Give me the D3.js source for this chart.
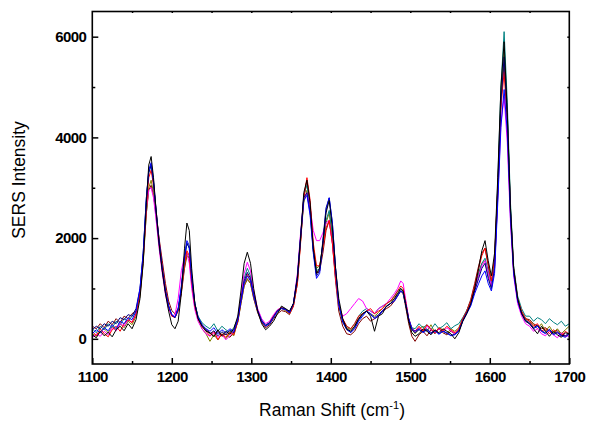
<!DOCTYPE html>
<html>
<head>
<meta charset="utf-8">
<script src="https://cdn.jsdelivr.net/npm/d3@7/dist/d3.min.js"></script>
<style>
  body { margin: 0; background: #fff; }
  svg { display: block; }
  .tick-label { font-family: "Liberation Sans", Arial, sans-serif; font-weight: bold; font-size: 15px; letter-spacing: -0.6px; }
  .axis-title { font-family: "Liberation Sans", Arial, sans-serif; font-size: 17.5px; }
</style>
</head>
<body>
<div id="chart"></div>
<script>
// Raman shift positions (cm-1), shared by all spectra
var shifts = [
  1100, 1105, 1110, 1115, 1120, 1125, 1130, 1135, 1140, 1145, 1150, 1155,
  1160, 1164, 1168, 1171, 1174, 1177, 1180, 1184, 1188, 1192, 1196, 1200, 1204, 1208, 1212, 1216, 1219, 1222, 1225, 1229, 1233, 1238, 1243,
  1248, 1253, 1258, 1263, 1268, 1273, 1278,
  1283, 1287, 1291, 1295, 1299, 1303, 1308, 1313, 1318, 1323, 1328, 1333, 1338, 1343, 1348, 1353, 1358, 1362, 1366, 1370, 1374, 1378, 1382, 1386, 1390, 1394, 1398, 1402, 1406, 1410, 1415, 1420, 1425,
  1430, 1435, 1440, 1445, 1450, 1455, 1460, 1465, 1470, 1475, 1480,
  1484, 1488, 1491, 1494, 1498, 1502, 1506,
  1511, 1516, 1521, 1526, 1531, 1536, 1541, 1546, 1551, 1556, 1561,
  1566, 1571, 1576, 1581, 1586, 1590, 1594, 1598, 1602, 1606, 1610, 1614, 1618, 1622, 1626, 1630, 1635, 1640, 1645,
  1650, 1655, 1660, 1665, 1670, 1675, 1680, 1685, 1690, 1695, 1700
];

// SERS intensities, one array per spectrum
var maroon = [
  250, 200, 300, 220, 350, 280, 400, 320, 450, 400, 500, 550,
  900, 1550, 2500, 2950, 3050, 2850, 2500, 2000, 1550, 1100, 750, 560, 500, 600, 900, 1400, 1650, 1600, 1150, 700, 430, 280, 180,
  120, 60, 150, 50, 100, 30, 120,
  330, 700, 1050, 1180, 1100, 800, 520, 330, 220, 280, 400, 500, 560, 540, 480, 650, 1100, 1950, 2800, 3150, 2650, 1750, 1300, 1350, 1700, 2150, 2350, 1900, 1150, 550, 250, 100, 80,
  150, 300, 400, 450, 350, 400, 450, 550, 600, 650, 750,
  850, 950, 900, 650, 300, 50, -50,
  80, 150, 60, 180, 100, 200, 120, 80, 150, 100, 180,
  400, 560, 780, 1100, 1450, 1700, 1800, 1450, 1100, 1550, 3000, 4700, 5500, 4400, 2500, 1350, 780, 520, 400,
  380, 300, 250, 200, 220, 150, 120, 180, 90, 50, 100
];
var olive = [
  100, 50, 150, 200, 120, 250, 180, 300, 220, 350, 280, 450,
  850, 1500, 2500, 3000, 3150, 2900, 2450, 1850, 1350, 920, 620, 460, 430, 580, 950, 1450, 1700, 1600, 1100, 620, 380, 200, 100,
  -50, 80, -20, 100, 0, 120, 60,
  350, 700, 1050, 1200, 1100, 820, 540, 350, 260, 320, 430, 540, 600, 560, 500, 680, 1150, 1950, 2700, 2950, 2600, 1800, 1400, 1450, 1850, 2300, 2500, 2000, 1250, 650, 350, 220, 180,
  250, 400, 500, 550, 500, 450, 520, 600, 700, 750, 800,
  900, 950, 900, 700, 380, 200, 100,
  200, 250, 150, 280, 120, 220, 180, 100, 200, 150, 220,
  400, 550, 720, 1000, 1300, 1500, 1550, 1250, 1000, 1450, 2950, 4800, 5700, 4500, 2600, 1400, 800, 550, 400,
  350, 280, 200, 300, 150, 250, 120, 200, 100, 180, 250
];
var teal = [
  200, 120, 250, 180, 300, 220, 350, 280, 400, 350, 450, 520,
  950, 1650, 2750, 3300, 3450, 3100, 2550, 1900, 1400, 950, 650, 480, 420, 580, 1000, 1600, 1900, 1800, 1250, 700, 450, 320, 250,
  200, 300, 150, 250, 180, 130, 220,
  400, 800, 1200, 1400, 1250, 900, 580, 380, 270, 330, 450, 570, 620, 600, 520, 700, 1200, 2000, 2850, 3050, 2650, 1800, 1350, 1400, 1850, 2350, 2550, 2050, 1300, 700, 380, 250, 200,
  300, 450, 550, 600, 550, 500, 600, 650, 700, 750, 850,
  950, 1000, 950, 750, 400, 220, 200,
  300, 220, 280, 180, 300, 200, 250, 320, 200, 260, 300,
  420, 560, 750, 1000, 1300, 1500, 1600, 1350, 1100, 1550, 3100, 5000, 6100, 4700, 2700, 1450, 850, 600, 450,
  450, 350, 420, 380, 300, 400, 330, 280, 350, 250, 300
];
var magenta = [
  20, 100, 50, 150, 80, 220, 160, 300, 250, 380, 330, 480,
  950, 1600, 2600, 2950, 3000, 2800, 2400, 1800, 1300, 880, 600, 450, 480, 800, 1350, 1650, 1700, 1500, 1000, 580, 350, 200, 100,
  50, 120, 30, 90, -20, 60, 150,
  400, 850, 1300, 1520, 1350, 950, 600, 400, 300, 350, 480, 580, 620, 580, 520, 700, 1300, 2100, 2800, 2900, 2600, 2150, 1950, 1950, 2100, 2300, 2350, 1900, 1250, 650, 450, 500, 600,
  700, 800, 750, 600, 550, 500, 600, 650, 700, 800, 900,
  1000, 1150, 1100, 800, 400, 200, 150,
  220, 150, 250, 180, 120, 200, 140, 220, 160, 100, 180,
  380, 520, 700, 950, 1250, 1450, 1550, 1300, 1050, 1400, 2800, 4300, 4800, 3900, 2300, 1250, 700, 450, 300,
  250, 150, 200, 100, 60, 150, 80, 20, 120, 60, 50
];
var red = [
  150, 60, 200, 100, 40, 180, 250, 150, 300, 380, 320, 500,
  900, 1600, 2600, 3200, 3350, 3050, 2600, 1950, 1450, 1000, 650, 450, 420, 550, 950, 1500, 1750, 1650, 1150, 650, 400, 250, 150,
  60, 150, -20, 100, 30, 140, 80,
  350, 750, 1100, 1280, 1150, 850, 550, 350, 250, 320, 450, 560, 620, 580, 500, 650, 1100, 1900, 2800, 3200, 2750, 1900, 1450, 1450, 1800, 2200, 2350, 1900, 1200, 700, 400, 250, 200,
  300, 450, 500, 550, 600, 500, 550, 600, 700, 750, 850,
  950, 1050, 1000, 750, 400, 200, 150,
  250, 150, 280, 200, 120, 220, 160, 250, 180, 120, 200,
  400, 550, 750, 1050, 1400, 1650, 1800, 1500, 1150, 1600, 3000, 4600, 5300, 4300, 2500, 1400, 800, 550, 400,
  350, 250, 300, 150, 200, 100, 180, 120, 60, 150, 90
];
var navy = [
  180, 250, 200, 300, 250, 350, 300, 420, 380, 480, 450, 600,
  1000, 1700, 2800, 3300, 3450, 3100, 2550, 1900, 1380, 950, 650, 470, 420, 580, 1000, 1600, 1900, 1800, 1200, 680, 420, 270, 180,
  100, 160, 60, 140, 80, 170, 120,
  380, 780, 1150, 1320, 1200, 880, 560, 360, 260, 320, 440, 560, 610, 590, 520, 700, 1250, 2050, 2800, 2900, 2500, 1750, 1250, 1350, 1950, 2600, 2800, 2300, 1400, 680, 330, 180, 130,
  220, 380, 480, 550, 480, 420, 480, 560, 640, 700, 760,
  860, 960, 920, 700, 380, 180, 120,
  180, 140, 200, 120, 170, 100, 150, 110, 70, 90, 160,
  360, 520, 680, 950, 1200, 1400, 1500, 1200, 1000, 1400, 2850, 4700, 5600, 4400, 2550, 1350, 770, 510, 370,
  320, 220, 270, 160, 120, 190, 100, 140, 70, 60, 120
];
var blue = [
  100, 180, 120, 220, 160, 280, 200, 350, 300, 420, 380, 550,
  1000, 1700, 2800, 3350, 3500, 3150, 2600, 1950, 1400, 950, 650, 480, 430, 600, 1050, 1650, 1950, 1850, 1250, 700, 430, 280, 200,
  150, 220, 100, 180, 120, 200, 150,
  380, 750, 1100, 1250, 1150, 850, 550, 350, 250, 300, 420, 550, 600, 580, 520, 700, 1200, 2000, 2750, 2850, 2450, 1700, 1200, 1300, 1900, 2550, 2800, 2300, 1400, 700, 350, 200, 120,
  200, 350, 450, 550, 500, 400, 450, 550, 650, 700, 750,
  850, 950, 900, 700, 400, 200, 150,
  200, 120, 180, 100, 160, 90, 150, 120, 60, 80, 150,
  350, 500, 650, 900, 1100, 1250, 1350, 1100, 950, 1300, 2700, 4200, 4950, 4100, 2400, 1300, 750, 500, 350,
  300, 200, 250, 150, 100, 180, 80, 120, 60, 30, 100
];
var black = [
  80, 20, 150, 60, 130, 40, 180, 250, 160, 300, 200, 380,
  800, 1500, 2700, 3450, 3620, 3200, 2600, 1900, 1350, 900, 550, 280, 200, 350, 900, 1800, 2300, 2150, 1400, 700, 400, 250, 150,
  120, 40, 180, 60, 150, 90, 200,
  450, 950, 1500, 1720, 1500, 1000, 550, 300, 180, 250, 350, 500, 650, 600, 550, 700, 1200, 2000, 2900, 3150, 2700, 1800, 1300, 1400, 1900, 2500, 2750, 2200, 1400, 800, 400, 200, 150,
  250, 400, 500, 550, 450, 150, 450, 500, 650, 700, 800,
  900, 1000, 950, 700, 350, 120, 50,
  100, 200, 150, 80, 180, 120, 200, 150, 100, 0, 120,
  350, 500, 700, 1000, 1400, 1750, 1950, 1550, 1250, 1700, 3200, 5000, 5900, 4500, 2600, 1400, 800, 500, 350,
  300, 200, 100, 250, 150, 50, 150, 80, 30, 120, 100
];

var spectra = [
  { name: "s8", values: maroon, color: "#800000" },
  { name: "s7", values: olive, color: "#808000" },
  { name: "s6", values: teal, color: "#008080" },
  { name: "s5", values: magenta, color: "#ff00ff" },
  { name: "s4", values: red, color: "#ff0000" },
  { name: "s3", values: navy, color: "#000080" },
  { name: "s2", values: blue, color: "#0000ff" },
  { name: "s1", values: black, color: "#000000" }
];

var xMajor = [1100, 1200, 1300, 1400, 1500, 1600, 1700];
var yMajor = [0, 2000, 4000, 6000];

var width = 590, height = 426;
var margin = { left: 92.3, right: 20.7, top: 11.5, bottom: 62 };
var plotW = width - margin.left - margin.right;
var plotH = height - margin.top - margin.bottom;

var svg = d3.select("#chart").append("svg")
    .attr("width", width)
    .attr("height", height);

var g = svg.append("g")
    .attr("transform", "translate(" + margin.left + "," + margin.top + ")");

var x = d3.scaleLinear().domain([1100, 1700]).range([0, plotW]);
var y = d3.scaleLinear().domain([-500, 6500]).range([plotH, 0]);

g.append("clipPath").attr("id", "clip")
  .append("rect").attr("width", plotW).attr("height", plotH);

var line = d3.line()
    .x(function (d, i) { return x(shifts[i]); })
    .y(function (d) { return y(d); });

g.append("g").attr("clip-path", "url(#clip)")
  .selectAll("path.spectrum")
  .data(spectra)
  .enter().append("path")
    .attr("class", "spectrum")
    .attr("fill", "none")
    .attr("stroke", function (d) { return d.color; })
    .attr("stroke-width", 1)
    .attr("stroke-linejoin", "round")
    .attr("d", function (d) { return line(d.values); });

// axes, ticks pointing inward like Origin
var xAxis = d3.axisBottom(x).tickValues(xMajor).tickSizeInner(-6).tickSizeOuter(0).tickPadding(7).tickFormat(d3.format("d"));
var xMinor = d3.axisBottom(x).tickValues(d3.range(1150, 1700, 100)).tickSizeInner(-3).tickSizeOuter(0).tickFormat("");
var yAxis = d3.axisLeft(y).tickValues(yMajor).tickSizeInner(-6).tickSizeOuter(0).tickPadding(6).tickFormat(d3.format("d"));
var yMinor = d3.axisLeft(y).tickValues([1000, 3000, 5000]).tickSizeInner(-3).tickSizeOuter(0).tickFormat("");
var topTicks = d3.axisTop(x).tickValues(d3.range(1150, 1700, 50)).tickSizeInner(-1.5).tickSizeOuter(0).tickFormat("");
var rightTicks = d3.axisRight(y).tickValues(d3.range(0, 6500, 1000)).tickSizeInner(-2).tickSizeOuter(0).tickFormat("");

function styleAxis(sel) {
  sel.select(".domain").remove();
  sel.selectAll(".tick line").attr("stroke", "#000").attr("stroke-width", 1.5);
  sel.selectAll(".tick text").attr("class", "tick-label").attr("fill", "#000");
}

g.append("g").attr("transform", "translate(0," + plotH + ")").call(xAxis).call(styleAxis);
g.append("g").attr("transform", "translate(0," + plotH + ")").call(xMinor).call(styleAxis);
g.append("g").call(yAxis).call(styleAxis);
g.append("g").call(yMinor).call(styleAxis);
g.append("g").call(topTicks).call(styleAxis);
g.append("g").attr("transform", "translate(" + plotW + ",0)").call(rightTicks).call(styleAxis);

g.selectAll("g").attr("font-family", null).attr("font-size", null);

// frame
g.append("rect")
    .attr("width", plotW)
    .attr("height", plotH)
    .attr("fill", "none")
    .attr("stroke", "#000")
    .attr("stroke-width", 1.6);

// axis titles
var xt = svg.append("text")
    .attr("class", "axis-title")
    .attr("x", 332)
    .attr("y", 416)
    .attr("text-anchor", "middle");
xt.append("tspan").text("Raman Shift (cm");
xt.append("tspan").attr("dy", -7).attr("font-size", "11px").text("-1");
xt.append("tspan").attr("dy", 7).text(")");

svg.append("text")
    .attr("class", "axis-title")
    .attr("transform", "translate(25,180) rotate(-90)")
    .attr("text-anchor", "middle")
    .text("SERS Intensity");
</script>
</body>
</html>
